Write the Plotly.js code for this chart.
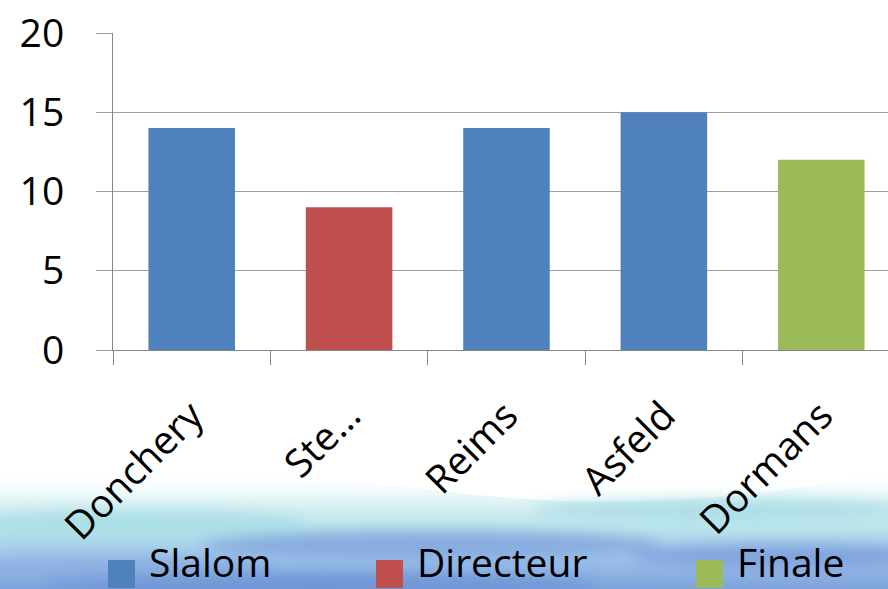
<!DOCTYPE html>
<html><head><meta charset="utf-8">
<script src="https://cdn.plot.ly/plotly-3.0.1.min.js"></script>
<style>html,body{margin:0;padding:0;background:#fff}#c{width:888px;height:589px}</style>
</head><body><div id="c"></div>
<script>
var categories = ['Donchery', 'Ste\u2026', 'Reims', 'Asfeld', 'Dormans'];
var values = [14, 9, 14, 15, 12];
var seriesOfCategory = ['Slalom', 'Directeur', 'Slalom', 'Slalom', 'Finale'];
var seriesNames = ['Slalom', 'Directeur', 'Finale'];
var seriesColors = ['#4F81BD', '#C0504D', '#9BBB59'];
var yTicks = [0, 5, 10, 15, 20];

var traces = seriesNames.map(function (s, i) {
  var xs = [], ys = [];
  categories.forEach(function (c, j) { if (seriesOfCategory[j] === s) { xs.push(c); ys.push(values[j]); } });
  return { type: 'bar', name: s, x: xs, y: ys, width: 0.55,
    marker: { color: seriesColors[i], line: { width: 0 } }, showlegend: false, hoverinfo: 'x+y' };
});

var svg = "<svg xmlns='http://www.w3.org/2000/svg' width='888' height='589' viewBox='0 0 888 589'>" +
 "<defs><linearGradient id='g' x1='0' y1='0' x2='0' y2='1'>" +
 "<stop offset='0' stop-color='#ffffff' stop-opacity='0'/>" +
 "<stop offset='0.25' stop-color='#e2f4f6'/>" +
 "<stop offset='0.5' stop-color='#b8e3ea'/>" +
 "<stop offset='0.75' stop-color='#9cc2ea'/>" +
 "<stop offset='1' stop-color='#7ea2dc'/></linearGradient>" +
 "<filter id='b' x='-20%' y='-100%' width='140%' height='300%'><feGaussianBlur stdDeviation='7'/></filter></defs>" +
 "<path d='M0,472 Q220,465 450,492 T888,470 L888,589 L0,589 Z' fill='url(#g)'/>" +
 "<g filter='url(#b)' opacity='0.8'>" +
 "<ellipse cx='140' cy='522' rx='170' ry='12' fill='#a6dde5'/>" +
 "<ellipse cx='720' cy='510' rx='190' ry='12' fill='#a6dbe5'/>" +
 "<ellipse cx='430' cy='545' rx='230' ry='14' fill='#7fa2dc'/>" +
 "<ellipse cx='790' cy='556' rx='160' ry='12' fill='#7a9bdb'/>" +
 "<ellipse cx='110' cy='568' rx='170' ry='10' fill='#8aaee0'/>" +
 "<ellipse cx='320' cy='585' rx='280' ry='12' fill='#6d93d6'/>" +
 "</g></svg>";

var L = 113, W = 775, T = 33, H = 317;
function px(x) { return (x - L) / W; }
function py(y) { return (T + H - y) / H; }

var legendX = [[108, 148], [376, 416], [696, 736]];
var shapes = [], annotations = [];
seriesNames.forEach(function (s, i) {
  shapes.push({ type: 'rect', xref: 'paper', yref: 'paper', x0: px(legendX[i][0]), x1: px(legendX[i][0] + 27),
    y0: py(588), y1: py(560), fillcolor: seriesColors[i], line: { width: 0 }, layer: 'above' });
  annotations.push({ xref: 'paper', yref: 'paper', x: px(legendX[i][1]), y: py(561), xanchor: 'left', yanchor: 'middle',
    text: s, showarrow: false, borderpad: 0, font: { family: 'Open Sans', size: 39, color: '#000' } });
});

var layout = {
  width: 888, height: 589,
  margin: { l: L, r: 0, t: T, b: 589 - T - H, pad: 0 },
  paper_bgcolor: '#ffffff', plot_bgcolor: 'rgba(0,0,0,0)',
  font: { family: 'Open Sans', color: '#000' },
  barmode: 'overlay',
  showlegend: false,
  xaxis: { type: 'category', categoryorder: 'array', categoryarray: categories,
    range: [-0.5, 4.424], tickson: 'boundaries', ticks: 'outside', ticklen: 14, tickcolor: '#868686', tickwidth: 1,
    showline: true, linecolor: '#868686', linewidth: 1, showgrid: false, tickangle: -45,
    tickfont: { family: 'Open Sans', size: 39, color: '#000' }, ticklabelstandoff: 26, fixedrange: true },
  yaxis: { range: [0, 20], tickvals: yTicks, ticks: 'outside', ticklen: 16, tickcolor: '#a0a0a0', tickwidth: 1,
    showline: true, linecolor: '#868686', linewidth: 1, showgrid: true, gridcolor: '#a0a0a0', gridwidth: 1,
    zeroline: false, tickfont: { family: 'Open Sans', size: 39, color: '#000' }, ticklabelstandoff: 24, fixedrange: true },
  images: [{ source: 'data:image/svg+xml;charset=utf-8,' + encodeURIComponent(svg), xref: 'paper', yref: 'paper',
    x: px(0), y: py(0), sizex: 888 / W, sizey: 589 / H, sizing: 'stretch', xanchor: 'left', yanchor: 'top', layer: 'below' }],
  shapes: shapes,
  annotations: annotations
};

Plotly.newPlot('c', traces, layout, { displayModeBar: false, staticPlot: true });
</script></body></html>
